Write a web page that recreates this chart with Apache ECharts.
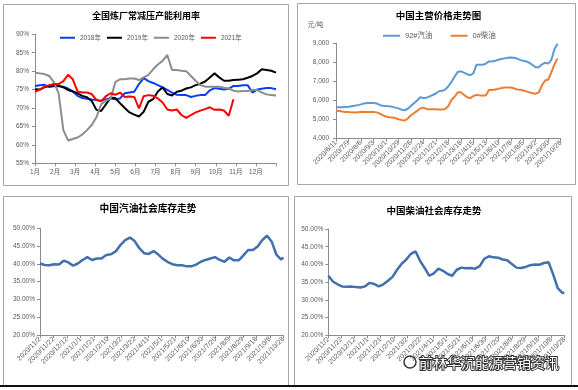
<!DOCTYPE html>
<html><head><meta charset="utf-8">
<script src="https://cdn.jsdelivr.net/npm/echarts@6/dist/echarts.min.js"></script>
<style>html,body{margin:0;padding:0;background:#fff}#c{width:578px;height:390px}</style>
</head><body><div id="c"></div>
<script>
// ---------- Chart 1: 全国炼厂常减压产能利用率 (weekly, %) ----------
const monthLabels = ['1月','2月','3月','4月','5月','6月','7月','8月','9月','10月','11月','12月'];
const util2018 = [76.0,76.2,76.3,75.7,75.9,76.0,75.8,75.3,74.5,73.3,
  72.7,72.5,72.3,72.2,72.0,72.4,72.6,72.4,72.6,74.0,
  74.2,74.4,76.5,78.1,77.3,76.8,76.2,75.6,74.9,74.2,
  73.6,73.5,73.5,73.0,73.3,73.5,73.5,74.8,75.4,75.2,
  75.0,75.2,76.0,76.0,76.2,76.2,74.2,75.0,75.2,75.4,
  75.4,75.1];
const util2019 = [75.1,75.0,75.6,76.0,76.2,76.0,75.6,74.9,74.5,74.0,
  73.3,72.9,71.9,69.5,69.2,71.0,72.8,72.7,71.3,70.0,
  68.8,68.2,67.7,69.0,71.7,72.4,74.5,75.6,73.8,73.4,
  74.4,74.7,75.3,75.6,76.2,76.6,77.2,78.3,79.4,78.3,
  77.4,77.4,77.6,77.7,77.8,78.2,78.7,79.4,80.5,80.3,
  80.1,79.6];
const util2020 = [79.6,79.4,79.2,78.7,77.0,74.0,64.0,61.2,61.6,62.0,
  62.8,64.0,65.4,67.5,71.0,72.0,72.5,77.0,77.8,77.8,
  78.0,78.0,77.6,78.3,79.0,80.5,81.8,82.8,84.4,80.3,
  80.3,80.1,80.0,78.7,77.4,76.2,75.8,75.8,75.8,75.8,
  75.5,75.3,74.7,74.5,74.6,74.6,74.9,74.9,74.2,73.7,
  73.5,73.4];
const util2021 = [74.4,75.0,75.8,76.2,76.5,76.5,77.3,79.0,77.8,74.5,
  74.2,74.2,73.8,72.2,71.8,73.2,74.0,73.6,74.2,73.0,
  73.1,73.0,69.9,73.2,73.5,73.3,72.6,71.5,69.6,69.3,
  69.6,68.1,67.3,68.1,68.8,69.3,69.7,70.2,69.5,69.6,
  69.3,67.9,72.4];

// ---------- Chart 2: 中国主营价格走势图 (weekly from 2020/6/11, 元/吨) ----------
const priceTickLabels = ['2020/6/11','2020/7/9','2020/8/6','2020/9/3','2020/10/1','2020/10/29','2020/11/26',
  '2020/12/24','2021/1/21','2021/2/18','2021/3/18','2021/4/15','2021/5/13','2021/6/10','2021/7/8',
  '2021/8/5','2021/9/2','2021/9/30','2021/10/28'];
const gasoline92 = [5650,5650,5650,5660,5670,5700,5730,5760,5800,5850,
  5870,5870,5870,5850,5770,5730,5710,5700,5680,5630,
  5590,5520,5490,5570,5720,5860,6000,6170,6130,6150,
  6220,6290,6370,6490,6510,6580,6750,6980,7250,7500,
  7530,7460,7380,7330,7420,7870,7880,7880,7930,8050,
  8050,8080,8140,8180,8210,8240,8260,8240,8200,8130,
  8080,8050,7970,7860,7740,7750,7900,7980,7940,8120,
  8700,8970];
const diesel0 = [5470,5450,5420,5400,5400,5380,5370,5380,5410,5400,
  5400,5400,5400,5380,5320,5230,5160,5120,5110,5080,
  5020,4980,4950,5060,5230,5340,5460,5580,5630,5560,
  5540,5540,5540,5530,5530,5560,5710,6040,6200,6430,
  6440,6300,6170,6130,6230,6300,6270,6270,6270,6550,
  6550,6580,6610,6660,6680,6680,6680,6640,6580,6560,
  6530,6480,6430,6380,6360,6430,6800,7050,7100,7480,
  7900,8200];

// ---------- Charts 3 & 4: 社会库存 (weekly from 2020/11/2, %) ----------
const invTickLabels = ['2020/11/2','2020/11/22','2020/12/12','2021/1/1','2021/1/21','2021/2/10','2021/3/2',
  '2021/3/22','2021/4/11','2021/5/1','2021/5/21','2021/6/10','2021/6/30','2021/7/20','2021/8/9',
  '2021/8/29','2021/9/18','2021/10/8','2021/10/28'];
const gasInventory = [40.1,39.7,39.6,39.9,39.8,40.9,40.4,39.5,40.1,41.1,
  41.9,41.1,41.5,41.5,42.5,42.7,43.5,45.3,46.7,47.4,
  46.4,44.4,43.0,42.8,43.6,42.6,41.4,40.5,39.9,39.6,
  39.6,39.3,39.3,39.8,40.6,41.1,41.5,41.9,41.1,40.6,
  41.8,41.0,41.0,42.4,43.9,43.9,44.9,46.7,47.9,46.2,
  42.5,41.2,41.8];
const dieselInventory = [36.8,35.2,34.4,33.8,33.7,33.8,33.6,33.5,33.8,34.8,
  34.5,33.8,34.4,35.4,36.5,38.5,40.2,41.4,43.0,43.7,
  41.0,39.0,36.8,37.5,38.8,38.2,37.3,36.8,38.5,39.1,
  38.9,39.0,38.8,39.5,41.6,42.3,42.0,41.9,41.4,41.2,
  40.1,39.1,39.0,39.3,39.8,40.0,39.9,40.4,40.6,37.2,
  33.3,32.0,32.0];

const FONT = '"Liberation Sans","Noto Sans CJK SC",sans-serif';
const CJK = '"Noto Sans CJK SC",sans-serif';
const AX = '#8C8C8C';
const LBL = '#595959';

function yearPts(arr){ return arr.map((v,i)=>[i*12/51, v]); }
function weekPts(arr, maxDay){ return arr.map((v,i)=>[Math.min(i*7, maxDay), v]); }

function axisBase(extra){
  return Object.assign({
    type:'value',
    axisLine:{show:true, lineStyle:{color:AX, width:1}},
    axisTick:{show:true, length:3, lineStyle:{color:AX}},
    splitLine:{show:false},
  }, extra);
}

const chart = echarts.init(document.getElementById('c'), null, {renderer:'canvas'});

function txt(x, y, text, font, fill, extra){
  return Object.assign({type:'text', x:x, y:y, silent:true,
    style:{text:text, font:font, fill:fill||'#000', align:'center', verticalAlign:'middle',
      textAlign:'center', textVerticalAlign:'middle'}}, extra||{});
}
function box(x,y,w,h){
  return {type:'rect', silent:true, shape:{x:x,y:y,width:w,height:h},
    style:{fill:'none', stroke:'#A6A6A6', lineWidth:1}};
}

const option = {
  animation:false,
  textStyle:{fontFamily:FONT},
  grid:[
    {left:35, top:34.3, width:241, height:129},
    {left:336, top:43.3, width:224.7, height:95.4},
    {left:40, top:228.3, width:243.3, height:106.7},
    {left:328.3, top:229, width:236, height:106.3}
  ],
  xAxis:[
    axisBase({gridIndex:0, min:0, max:12, interval:1,
      axisLabel:{fontSize:6.5, color:LBL, margin:6, formatter:v=> v<12 ? monthLabels[v] : ''}}),
    axisBase({gridIndex:1, min:0, max:504, interval:28,
      axisLabel:{fontSize:7, color:LBL, margin:3, rotate:45, formatter:v=>priceTickLabels[Math.round(v/28)]}}),
    axisBase({gridIndex:2, min:0, max:360, interval:20,
      axisLabel:{fontSize:7, color:LBL, margin:3, rotate:45, formatter:v=>invTickLabels[Math.round(v/20)]}}),
    axisBase({gridIndex:3, min:0, max:360, interval:20,
      axisLabel:{fontSize:7, color:LBL, margin:3, rotate:45, formatter:v=>invTickLabels[Math.round(v/20)]}})
  ],
  yAxis:[
    axisBase({gridIndex:0, min:55, max:90, interval:5,
      axisLabel:{fontSize:6.5, color:LBL, margin:6, formatter:'{value}%'}}),
    axisBase({gridIndex:1, min:4000, max:9000, interval:1000,
      axisLabel:{fontSize:6.5, color:LBL, margin:7}}),
    axisBase({gridIndex:2, min:20, max:50, interval:5,
      axisLabel:{fontSize:6.5, color:LBL, margin:5, formatter:v=>v.toFixed(2)+'%'}}),
    axisBase({gridIndex:3, min:20, max:50, interval:5,
      axisLabel:{fontSize:6.5, color:LBL, margin:5, formatter:v=>v.toFixed(2)+'%'}})
  ],
  legend:[
    {data:['2018年','2019年','2020年','2021年'], left:60, top:34.5, padding:0, icon:'rect',
      itemWidth:15, itemHeight:2, itemGap:6, textStyle:{fontSize:6.5, color:LBL, fontFamily:FONT}},
    {data:['92#汽油','0#柴油'], left:383, top:32, padding:0, icon:'rect',
      itemWidth:17, itemHeight:2, itemGap:18, textStyle:{fontSize:7.5, color:LBL, fontFamily:FONT}}
  ],
  series:[
    {name:'2018年', type:'line', xAxisIndex:0, yAxisIndex:0, symbol:'none', data:yearPts(util2018),
      itemStyle:{color:'#0A3CFF'}, lineStyle:{color:'#0A3CFF', width:2}},
    {name:'2019年', type:'line', xAxisIndex:0, yAxisIndex:0, symbol:'none', data:yearPts(util2019),
      itemStyle:{color:'#000000'}, lineStyle:{color:'#000000', width:2}},
    {name:'2020年', type:'line', xAxisIndex:0, yAxisIndex:0, symbol:'none', data:yearPts(util2020),
      itemStyle:{color:'#8C8C8C'}, lineStyle:{color:'#8C8C8C', width:2}},
    {name:'2021年', type:'line', xAxisIndex:0, yAxisIndex:0, symbol:'none', data:yearPts(util2021),
      itemStyle:{color:'#FF0000'}, lineStyle:{color:'#FF0000', width:2}},
    {name:'92#汽油', type:'line', xAxisIndex:1, yAxisIndex:1, symbol:'none', data:weekPts(gasoline92, 504),
      itemStyle:{color:'#5B9BD5'}, lineStyle:{color:'#5B9BD5', width:2}},
    {name:'0#柴油', type:'line', xAxisIndex:1, yAxisIndex:1, symbol:'none', data:weekPts(diesel0, 504),
      itemStyle:{color:'#ED7D31'}, lineStyle:{color:'#ED7D31', width:2}},
    {name:'汽油库存', type:'line', xAxisIndex:2, yAxisIndex:2, symbol:'none', data:weekPts(gasInventory, 360),
      itemStyle:{color:'#4270AE'}, lineStyle:{color:'#4270AE', width:2.5}},
    {name:'柴油库存', type:'line', xAxisIndex:3, yAxisIndex:3, symbol:'none', data:weekPts(dieselInventory, 360),
      itemStyle:{color:'#4270AE'}, lineStyle:{color:'#4270AE', width:2.5}}
  ],
  graphic:{elements:[
    box(3.5,4.5,285,181),
    box(297.5,3.5,278,181),
    box(3.5,196.5,285,189),
    box(294.5,196.5,277,189),
    {type:'rect', silent:true, shape:{x:0,y:385,width:578,height:2}, style:{fill:'#111'}},
    txt(146,16,'全国炼厂常减压产能利用率','bold 9px '+CJK,'#000'),
    txt(438.5,15,'中国主营价格走势图','bold 9.5px '+CJK,'#000'),
    txt(148,208,'中国汽油社会库存走势','bold 9.7px '+CJK,'#000'),
    txt(434,210,'中国柴油社会库存走势','bold 9.5px '+CJK,'#000'),
    txt(315.5,25,'元/吨','6.5px '+CJK,LBL),
    {type:'circle', silent:true, shape:{cx:410,cy:362,r:6}, style:{fill:'#fff', stroke:'#333', lineWidth:1.5}},
    txt(489,363,'前林华沉能源营销资讯','14px '+CJK,'#fff',{style:{text:'前林华沉能源营销资讯', font:'14px '+CJK,
      fill:'#fff', stroke:'#333', lineWidth:2, align:'center', verticalAlign:'middle', textAlign:'center', textVerticalAlign:'middle'}})
  ]}
};
chart.setOption(option);
</script>
</body></html>
